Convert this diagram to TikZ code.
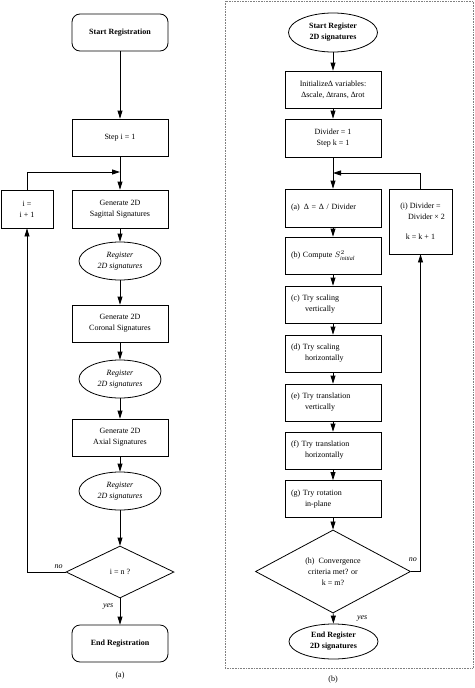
\documentclass[tikz,border=0pt]{standalone}
\usepackage{fontspec}
\setmainfont{Liberation Serif}
\usetikzlibrary{shapes.geometric,arrows.meta}

\newcommand{\stepind}{\hspace*{14pt}}

\begin{document}
\begin{tikzpicture}[x=1pt,y=-1pt,line width=0.8pt,
        every node/.style={font=\fontsize{8}{11}\selectfont},
        box/.style={draw, rectangle, minimum width=96pt, minimum height=37pt, align=center, inner sep=2pt},
        stepbox/.style={draw, rectangle, minimum width=96pt, minimum height=37pt, text width=84pt, align=left, inner xsep=6pt},
        endbox/.style={box, rounded corners=8pt, font=\fontsize{8}{11}\selectfont\bfseries},
        oval/.style={draw, ellipse, minimum width=82pt, minimum height=38pt, inner sep=0pt, align=center, font=\fontsize{8}{11}\selectfont\itshape},
        test/.style={draw, diamond, inner sep=0pt, align=center},
        arr/.style={-{Triangle[length=8pt,width=5pt]}}]
        \useasboundingbox (0,0) rectangle (474,688);

        % frame of part (b)
        \draw[line width=0.6pt, gray, densely dotted] (225,1) rectangle (473,668);

        % part (a)
        \node[endbox] (start) at (120, 32.5) {Start Registration};
        \node[box] (stepi) at (120, 137.5) {Step i = 1};
        \coordinate (joina) at (120, 172);
        \node[box, minimum height=38pt] (sag) at (120, 209) {Generate 2D\\Sagittal Signatures};
        \node[box, minimum width=52pt, minimum height=38pt] (inc) at (27, 209) {i =\\i + 1};
        \node[oval] (reg1) at (120, 261) {Register\\2D signatures};
        \node[box] (cor) at (120, 323.5) {Generate 2D\\Coronal Signatures};
        \node[oval] (reg2) at (120, 379) {Register\\2D signatures};
        \node[box] (axi) at (120, 437.5) {Generate 2D\\Axial Signatures};
        \node[oval] (reg3) at (120, 491) {Register\\2D signatures};
        \node[test, minimum width=108pt, minimum height=52pt] (last) at (120, 572) {i = n ?};
        \node[endbox] (stop) at (120, 643.5) {End Registration};
        \node (capa) at (120, 676) {(a)};

        \draw[arr] (start) -- (stepi);
        \draw (stepi) -- (joina);
        \draw[arr] (inc.north) |- (joina);
        \draw[arr] (joina) -- (sag);
        \draw[arr] (sag) -- (reg1);
        \draw[arr] (reg1) -- (cor);
        \draw[arr] (cor) -- (reg2);
        \draw[arr] (reg2) -- (axi);
        \draw[arr] (axi) -- (reg3);
        \draw[arr] (reg3) -- (last);
        \draw[arr] (last.west) -| node[pos=0.09, above] {\itshape no} (inc.south);
        \draw[arr] (last) -- node[pos=0.3, left=3pt] {\itshape yes} (stop);

        % part (b)
        \node[oval, minimum width=89pt, minimum height=39pt, font=\fontsize{8}{11}\selectfont\bfseries] (bstart) at (333, 32.5) {Start Register\\2D signatures};
        \node[box] (init) at (333, 89.5) {Initialize∆ variables:\\∆scale, ∆trans, ∆rot};
        \node[box, minimum height=38pt] (divi) at (333, 138) {Divider = 1\\Step k = 1};
        \coordinate (joinb) at (333, 173);
        \node[stepbox, minimum height=38pt] (sa) at (333, 208) {(a)\enspace Δ = Δ / Divider};
        \node[box, minimum width=63pt, minimum height=65pt] (upd) at (420.5, 221.5) {(i) Divider =\\\hspace*{12pt}Divider × 2\\[9pt]k = k + 1};
        \node[stepbox] (sb) at (333, 255.5) {(b) Compute $S^2_{\mathit{initial}}$};
        \node[stepbox] (sc) at (333, 304.5) {(c) Try scaling\\\stepind vertically};
        \node[stepbox] (sd) at (333, 353.5) {(d) Try scaling\\\stepind horizontally};
        \node[stepbox] (se) at (333, 402.5) {(e) Try translation\\\stepind vertically};
        \node[stepbox] (sf) at (333, 450.5) {(f) Try translation\\\stepind horizontally};
        \node[stepbox] (sg) at (333, 499) {(g) Try rotation\\\stepind in-plane};
        \node[test, minimum width=155pt, minimum height=65pt] (conv) at (333, 571.5) {(h)\enspace Convergence\\criteria met? or\\k = m?};
        \node[oval, minimum width=89pt, minimum height=35pt, font=\fontsize{8}{11}\selectfont\bfseries] (bend) at (333.5, 641.5) {End Register\\2D signatures};
        \node (capb) at (333, 680) {(b)};

        \draw[arr] (bstart) -- (init);
        \draw[arr] (init) -- (divi);
        \draw (divi) -- (joinb);
        \draw[arr] (upd.north) |- (joinb);
        \draw[arr] (joinb) -- (sa);
        \draw[arr] (sa) -- (sb);
        \draw[arr] (sb) -- (sc);
        \draw[arr] (sc) -- (sd);
        \draw[arr] (sd) -- (se);
        \draw[arr] (se) -- (sf);
        \draw[arr] (sf) -- (sg);
        \draw[arr] (sg) -- (conv);
        \draw[arr] (conv.east) -| node[pos=0.5, above left, yshift=6pt] {\itshape no} (upd.south);
        \draw[arr] (conv) -- node[pos=0.5, right=20pt] {\itshape yes} (bend);

    \end{tikzpicture}
\end{document}
